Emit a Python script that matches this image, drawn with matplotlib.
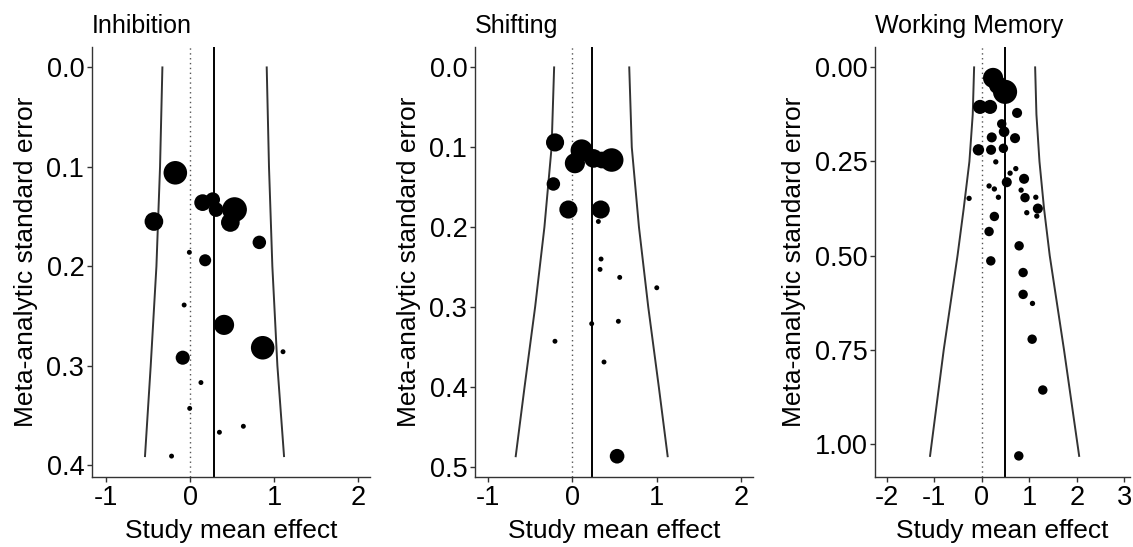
import numpy as np
import matplotlib as mpl
mpl.use("agg")
import matplotlib.pyplot as plt

plt.rcParams["font.family"] = ["Liberation Sans", "DejaVu Sans"]
plt.rcParams["axes.unicode_minus"] = False

# Inhibition: study effects, standard errors and relative weights
inh_x = [-0.175, -0.43, 0.15, 0.27, 0.31, 0.53, 0.48, 0.825, -0.008, 0.18,
         -0.07, 0.405, 0.865, 1.107, -0.087, 0.13, -0.004, 0.635, 0.35, -0.22]
inh_se = [0.106, 0.155, 0.136, 0.133, 0.143, 0.143, 0.156, 0.176, 0.186, 0.194,
          0.239, 0.259, 0.282, 0.286, 0.292, 0.317, 0.343, 0.361, 0.367, 0.391]
inh_w = [137, 86, 69, 53, 53, 151, 86, 45, 6, 36,
         6, 100, 137, 6, 49, 6, 6, 6, 6, 6]
inh_mean = 0.286
inh_funnel_se = [0.0, 0.1, 0.2, 0.3, 0.391]
inh_funnel_lo = [-0.329, -0.357, -0.40, -0.468, -0.536]
inh_funnel_hi = [0.913, 0.940, 0.980, 1.040, 1.119]

# Shifting
shf_x = [-0.205, 0.11, 0.03, 0.25, 0.35, 0.466, -0.225, -0.047, 0.336, 0.308,
         0.34, 0.328, 0.561, 1.0, 0.229, 0.545, -0.206, 0.375, 0.53]
shf_se = [0.094, 0.104, 0.120, 0.114, 0.116, 0.116, 0.146, 0.178, 0.178, 0.193,
          0.240, 0.253, 0.263, 0.276, 0.321, 0.318, 0.343, 0.369, 0.487]
shf_w = [81, 121, 100, 86, 69, 137, 45, 81, 81, 6,
         6, 6, 6, 6, 6, 6, 6, 6, 53]
shf_mean = 0.237
shf_funnel_se = [0.0, 0.1, 0.2, 0.3, 0.4, 0.487]
shf_funnel_lo = [-0.216, -0.246, -0.331, -0.441, -0.566, -0.671]
shf_funnel_hi = [0.674, 0.704, 0.789, 0.899, 1.024, 1.129]

# Working memory
wm_x = [0.238, 0.49, 0.34, -0.036, 0.175, 0.743, 0.42, 0.47, 0.21, 0.70,
        -0.07, 0.196, 0.455, 0.295, 0.716, 0.596, 0.89, 0.526, 0.154, 0.265,
        0.828, 0.35, -0.267, 0.91, 1.137, 1.18, 0.947, 1.158, 0.265, 0.154,
        0.786, 0.19, 0.87, 0.87, 1.067, 1.06, 1.284, 0.779]
wm_se = [0.028, 0.065, 0.047, 0.105, 0.105, 0.121, 0.150, 0.171, 0.186, 0.188,
         0.219, 0.219, 0.215, 0.251, 0.269, 0.281, 0.296, 0.305, 0.315, 0.323,
         0.326, 0.345, 0.348, 0.346, 0.345, 0.375, 0.386, 0.395, 0.396, 0.436,
         0.474, 0.514, 0.545, 0.603, 0.627, 0.722, 0.857, 1.032]
wm_w = [100, 144, 81, 49, 49, 25, 22, 28, 25, 25,
        32, 25, 22, 7, 7, 7, 25, 25, 7, 7,
        7, 7, 7, 22, 7, 25, 7, 7, 22, 22,
        22, 22, 22, 22, 7, 22, 22, 22]
wm_mean = 0.49
wm_funnel_se = [0.0, 0.125, 0.25, 0.375, 0.5, 0.75, 1.032]
wm_funnel_lo = [-0.161, -0.19, -0.26, -0.38, -0.51, -0.80, -1.088]
wm_funnel_hi = [1.123, 1.15, 1.214, 1.31, 1.43, 1.73, 2.049]

panels = [
    ("Inhibition", inh_x, inh_se, inh_w, inh_mean, inh_funnel_se, inh_funnel_lo, inh_funnel_hi,
     [-1, 0, 1, 2], [0.0, 0.1, 0.2, 0.3, 0.4], "%.1f", (-1.167, 2.143), (0.412, -0.0205),
     [0.0812, 0.3266]),
    ("Shifting", shf_x, shf_se, shf_w, shf_mean, shf_funnel_se, shf_funnel_lo, shf_funnel_hi,
     [-1, 0, 1, 2], [0.0, 0.1, 0.2, 0.3, 0.4, 0.5], "%.1f", (-1.154, 2.14), (0.513, -0.0255),
     [0.4192, 0.6646]),
    ("Working Memory", wm_x, wm_se, wm_w, wm_mean, wm_funnel_se, wm_funnel_lo, wm_funnel_hi,
     [-2, -1, 0, 1, 2, 3], [0.0, 0.25, 0.5, 0.75, 1.0], "%.2f", (-2.246, 3.12), (1.088, -0.054),
     [0.7723, 0.9974]),
]

fig = plt.figure(figsize=(11.33, 5.47), dpi=100)
bottom, top = 0.128, 0.914

for (title, x, se, w, mean, fse, flo, fhi, xt, yt, yfmt, xlim, ylim, lr) in panels:
    ax = fig.add_axes([lr[0], bottom, lr[1] - lr[0], top - bottom])
    ax.plot(flo, fse, color="#333333", lw=1.4)
    ax.plot(fhi, fse, color="#333333", lw=1.4)
    ax.axvline(0, color="#555555", lw=1.0, ls=(0, (1, 2.5)))
    ax.axvline(mean, color="black", lw=1.4)
    ax.scatter(x, se, s=np.array(w) * 2.1, color="black", edgecolors="none", zorder=3)
    ax.set_xlim(*xlim)
    ax.set_ylim(*ylim)
    ax.set_xticks(xt)
    ax.set_xticklabels([str(v) for v in xt])
    ax.set_yticks(yt)
    ax.set_yticklabels([yfmt % v for v in yt])
    for s in ("top", "right"):
        ax.spines[s].set_visible(False)
    for s in ("left", "bottom"):
        ax.spines[s].set_color("#333333")
        ax.spines[s].set_linewidth(1.0)
    ax.tick_params(direction="out", length=3.5, width=1.0, color="#333333",
                   labelsize=19.5, labelcolor="black", pad=2)
    ax.set_xlabel("Study mean effect", fontsize=19, labelpad=6)
    ax.set_ylabel("Meta-analytic standard error", fontsize=19, labelpad=6)
    ax.set_title(title, loc="left", fontsize=18, pad=10)

plt.savefig("out.png", dpi=100)
